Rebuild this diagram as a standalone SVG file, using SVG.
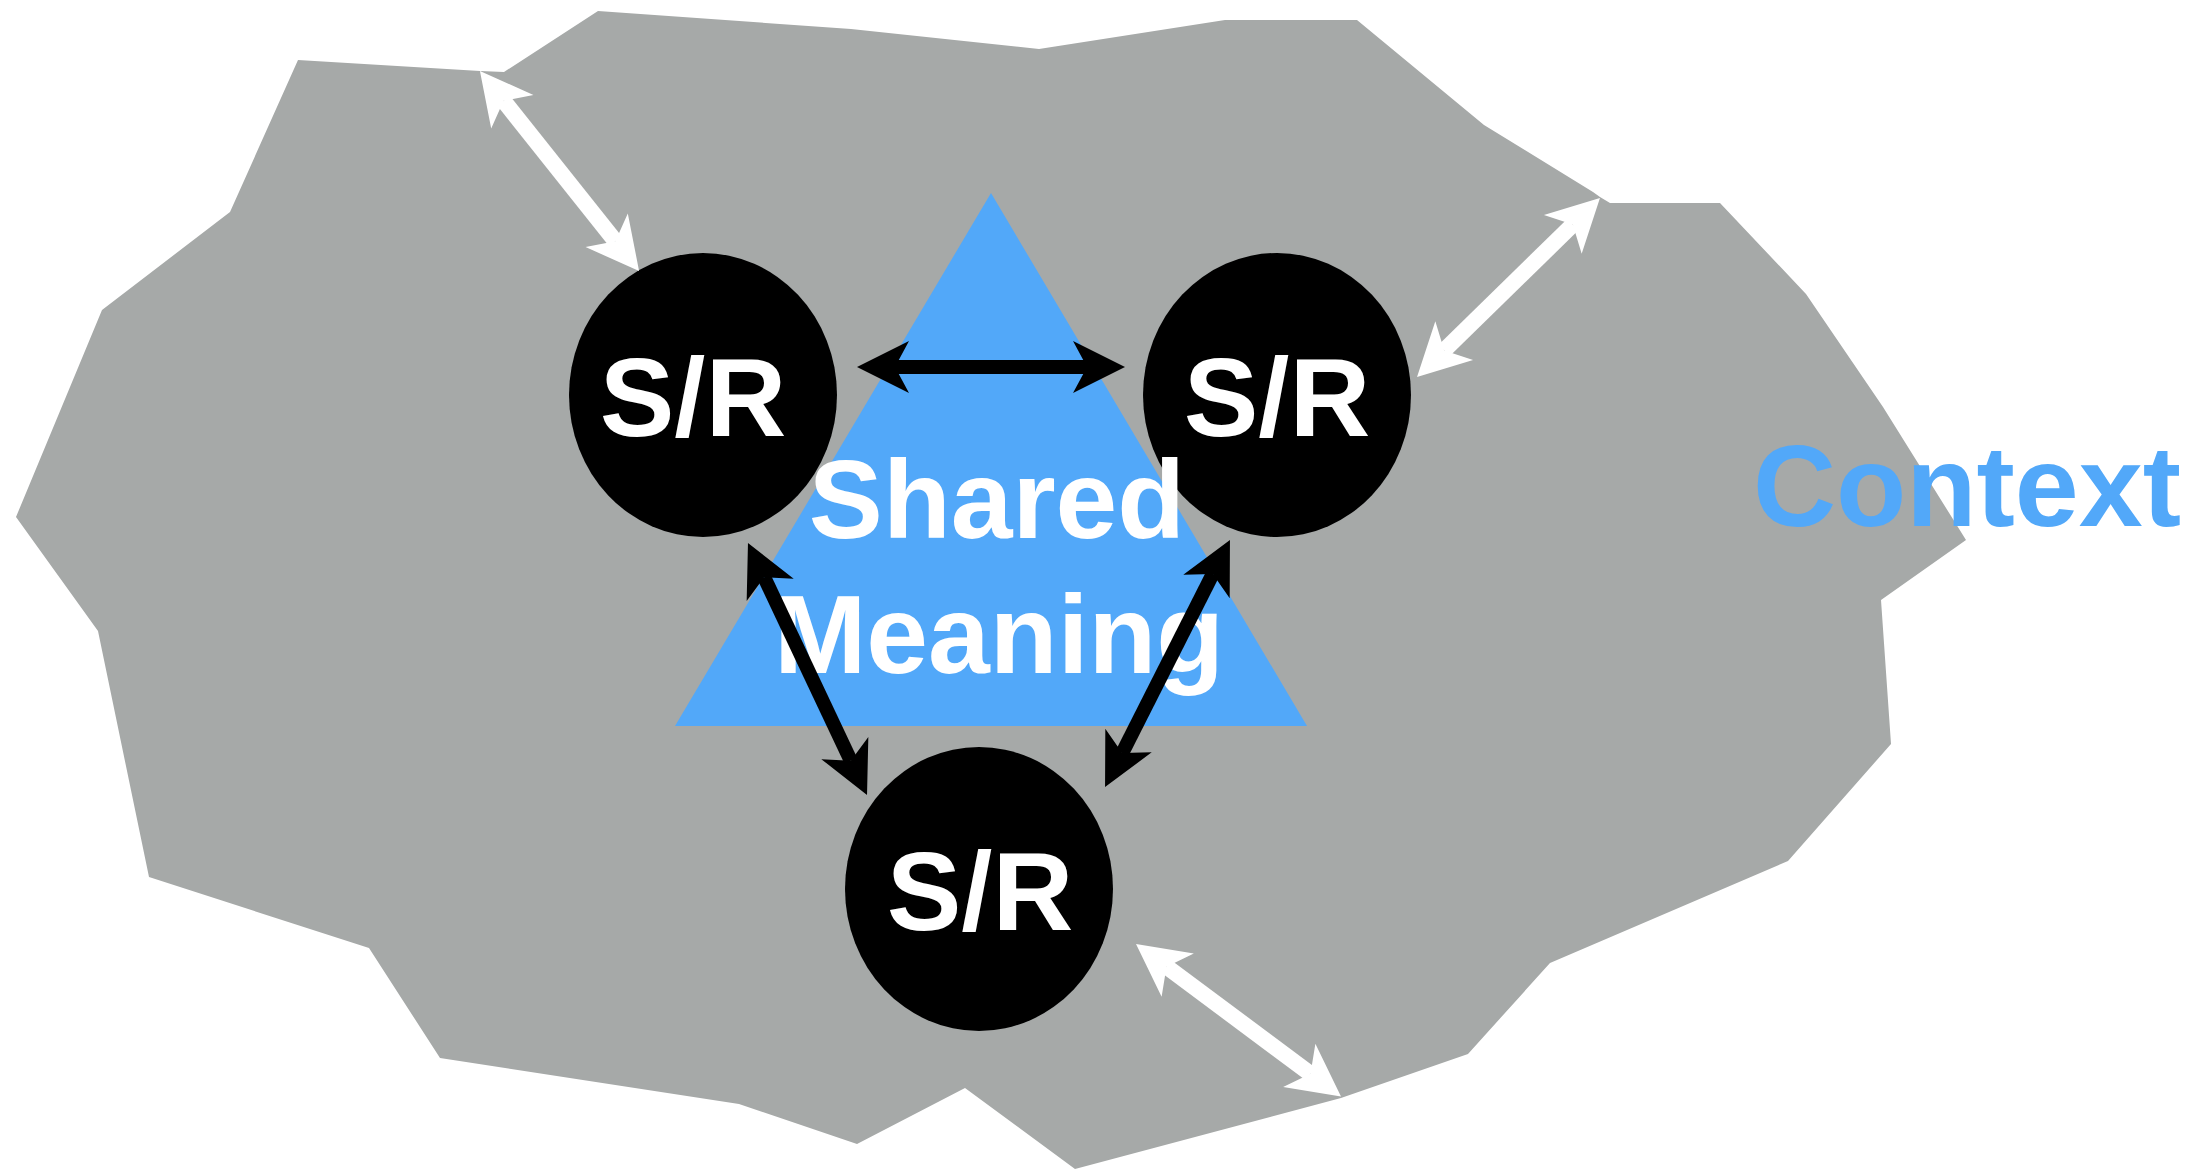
<svg xmlns="http://www.w3.org/2000/svg" width="2195" height="1169" viewBox="0 0 2195 1169">
<style>
.ctx{fill:#a6a9a8}
.tri{fill:#52a8f9}
.node{fill:#000}
.lbl{font-family:"Liberation Sans",Arial,Helvetica,sans-serif;font-weight:bold;fill:#fff;text-anchor:middle}
.ctxlbl{font-family:"Liberation Sans",Arial,Helvetica,sans-serif;font-weight:bold;fill:#52a8f9}
.wa{stroke:#fff;stroke-width:16;fill:none}
.ba{stroke:#000;stroke-width:14;fill:none}
</style>
<defs>
<marker id="hw" markerUnits="userSpaceOnUse" orient="auto-start-reverse" refX="0" refY="0" markerWidth="100" markerHeight="100" overflow="visible">
<path d="M38,0 L-14,-27 L0,0 L-14,27 Z" fill="#fff"/>
</marker>
<marker id="hb" markerUnits="userSpaceOnUse" orient="auto-start-reverse" refX="0" refY="0" markerWidth="100" markerHeight="100" overflow="visible">
<path d="M38,0 L-14,-26 L0,0 L-14,26 Z" fill="#000"/>
</marker>
</defs>
<g id="context">
<polygon class="ctx" points="598,11 851,29 1039,49 1225,20 1357,20 1484,125 1593,192 1600,197 1610,203 1720,203 1806,294 1883,407 1966,540 1881,600 1891,744 1788,861 1550,963 1468,1054 1341,1098 1075,1169 965,1088 857,1144 739,1104 440,1058 369,948 149,877 98,631 16,517 102,310 230,212 298,60 480,71 504,72"/>
<text class="ctxlbl" x="1753" y="526" font-size="115">Context</text>
</g>
<g id="shared-meaning">
<polygon class="tri" points="991,193 1307,726 675,726"/>
</g>
<g id="sr-left">
<ellipse class="node" cx="703" cy="395" rx="134" ry="142"/>
<text class="lbl" x="693" y="436" font-size="112">S/R</text>
</g>
<g id="sr-right">
<ellipse class="node" cx="1277" cy="395" rx="134" ry="142"/>
<text class="lbl" x="1277" y="436" font-size="112">S/R</text>
</g>
<g id="sr-bottom">
<ellipse class="node" cx="979" cy="889" rx="134" ry="142"/>
<text class="lbl" x="980" y="930" font-size="112">S/R</text>
</g>
<g id="shared-meaning-label">
<text class="lbl" x="997" y="538" font-size="111">Shared</text>
<text class="lbl" x="999" y="673" font-size="111">Meaning</text>
</g>
<g id="connectors">
<line class="wa" x1="503.6" y1="100.8" x2="615.4" y2="241.2" marker-start="url(#hw)" marker-end="url(#hw)"/>
<line class="wa" x1="1572.8" y1="224.6" x2="1444.2" y2="350.4" marker-start="url(#hw)" marker-end="url(#hw)"/>
<line class="wa" x1="1166.5" y1="966.7" x2="1310.5" y2="1073.8" marker-start="url(#hw)" marker-end="url(#hw)"/>
<line class="ba" x1="895" y1="367" x2="1087" y2="367" marker-start="url(#hb)" marker-end="url(#hb)"/>
<line class="ba" x1="764.2" y1="577.3" x2="850.8" y2="760.7" marker-start="url(#hb)" marker-end="url(#hb)"/>
<line class="ba" x1="1212.8" y1="573.9" x2="1122.2" y2="753.1" marker-start="url(#hb)" marker-end="url(#hb)"/>
</g>
</svg>
